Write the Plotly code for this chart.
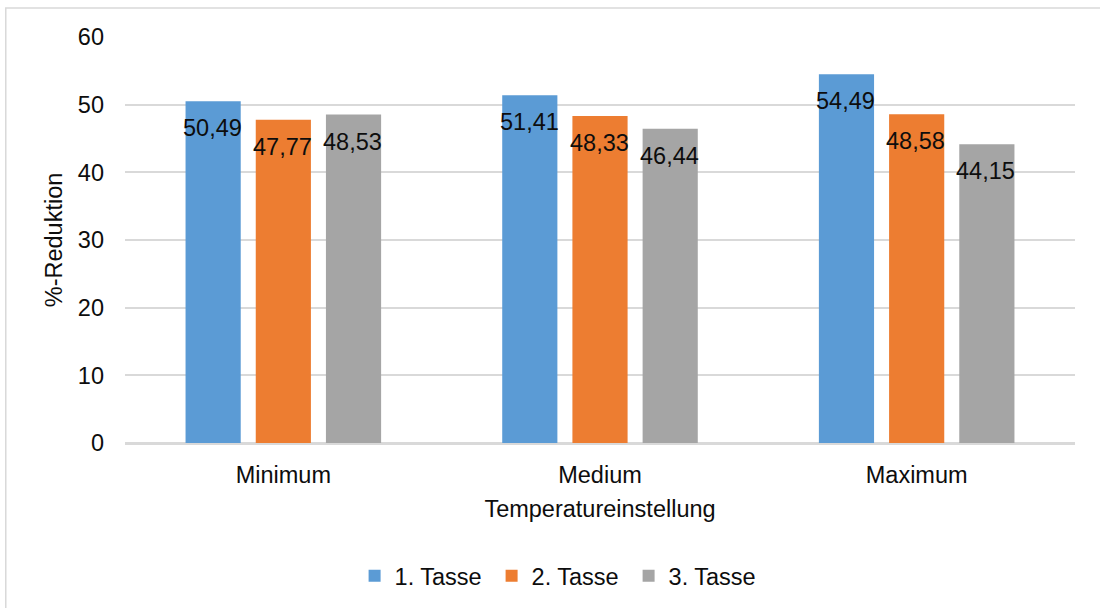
import plotly.graph_objects as go

# Temperature settings and the reduction (%) measured for each cup
categories = ["Minimum", "Medium", "Maximum"]
series_names = ["1. Tasse", "2. Tasse", "3. Tasse"]
tasse_1 = [50.49, 51.41, 54.49]
tasse_2 = [47.77, 48.33, 48.58]
tasse_3 = [48.53, 46.44, 44.15]
colors = ["#5b9bd5", "#ed7d31", "#a5a5a5"]

FONT = "Liberation Sans, Arial, sans-serif"
TXT = "#0d0d0d"
GRID = "#d9d9d9"
SIZE = 23.5

fig = go.Figure()
all_series = [tasse_1, tasse_2, tasse_3]
for name, vals, col in zip(series_names, all_series, colors):
    fig.add_trace(go.Bar(
        name=name, x=categories, y=vals,
        marker=dict(color=col, line=dict(width=0)),
    ))

# value labels just inside the top of each bar (decimal comma)
offsets = [-70, 0, 70]
for vals, dx in zip(all_series, offsets):
    for cat, v in zip(categories, vals):
        fig.add_annotation(
            x=cat, y=v, xref="x", yref="y",
            text=f"{v:.2f}".replace(".", ","),
            showarrow=False, xshift=dx - 1, yshift=-27,
            xanchor="center", yanchor="middle",
            font=dict(family=FONT, size=SIZE, color=TXT),
        )

# outer chart frame
fig.add_shape(
    type="rect", xref="paper", yref="paper",
    x0=-0.1255, x1=1.05, y0=-0.45, y1=1.0713,
    line=dict(color=GRID, width=1.5), fillcolor="rgba(0,0,0,0)", layer="below",
)

fig.update_layout(
    width=1100, height=608,
    margin=dict(l=125, r=25, t=37, b=164),
    paper_bgcolor="white", plot_bgcolor="white",
    barmode="group", bargap=0.335, bargroupgap=0.214,
    font=dict(family=FONT, size=SIZE, color=TXT),
    showlegend=True,
    legend=dict(
        orientation="h", x=0.458, xanchor="center", y=-0.324, yanchor="middle",
        font=dict(family=FONT, size=SIZE, color=TXT),
        itemwidth=30, entrywidth=92, traceorder="normal",
    ),
    xaxis=dict(
        title=dict(text="Temperatureinstellung", standoff=14,
                   font=dict(family=FONT, size=SIZE, color=TXT)),
        showgrid=False, showline=True, linecolor=GRID, linewidth=1.5,
        ticks="", ticklabelstandoff=10,
        tickfont=dict(family=FONT, size=SIZE, color=TXT),
    ),
    yaxis=dict(
        title=dict(text="%-Reduktion", standoff=8,
                   font=dict(family=FONT, size=SIZE, color=TXT)),
        range=[0, 60], dtick=10, tick0=0,
        showgrid=True, gridcolor=GRID, gridwidth=1.5,
        zeroline=True, zerolinecolor=GRID, zerolinewidth=1.5,
        showline=False, ticks="", ticklabelstandoff=20,
        tickfont=dict(family=FONT, size=SIZE, color=TXT),
    ),
)

fig.write_html("out.html")
